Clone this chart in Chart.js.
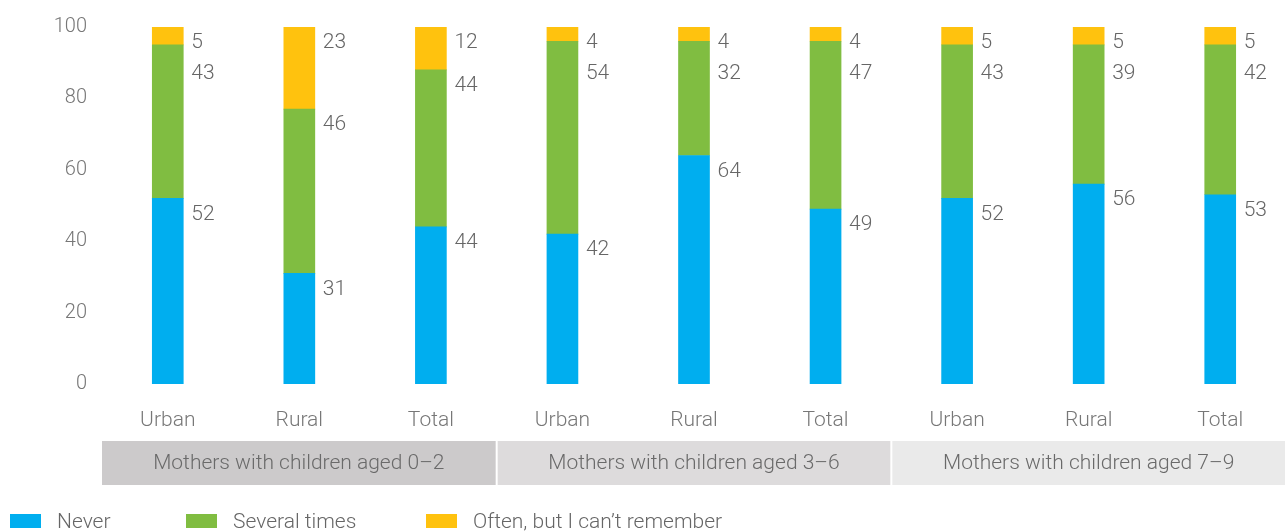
<!DOCTYPE html>
<html>
<head>
<meta charset="utf-8">
<script src="https://cdn.jsdelivr.net/npm/chart.js@4.4.1/dist/chart.umd.min.js"></script>
<style>
  html, body { margin: 0; padding: 0; background: #fff; }
  #wrap { position: relative; width: 1286px; height: 531px; overflow: hidden; }
  #legend { position: absolute; left: 0; top: 505px; width: 1286px; height: 26px; font-family: Roboto, sans-serif; font-weight: 300; font-size: 21px; color: #666; }
  .item { position: absolute; top: 0; display: flex; align-items: center; height: 32px; }
  .box { width: 31px; height: 14px; margin-right: 16px; }
</style>
</head>
<body>
<div id="wrap">
  <canvas id="chart" width="1286" height="531"></canvas>
  <div id="legend"></div>
</div>
<script>
// Data
const categories = ['Urban', 'Rural', 'Total', 'Urban', 'Rural', 'Total', 'Urban', 'Rural', 'Total'];
const never = [52, 31, 44, 42, 64, 49, 52, 56, 53];
const severalTimes = [43, 46, 44, 54, 32, 47, 43, 39, 42];
const often = [5, 23, 12, 4, 4, 4, 5, 5, 5];
const groups = ['Mothers with children aged 0\u20132', 'Mothers with children aged 3\u20136', 'Mothers with children aged 7\u20139'];
const yTicks = [0, 20, 40, 60, 80, 100];

const seriesNames = ['Never', 'Several times', 'Often, but I can\u2019t remember'];
const seriesColors = ['#00aeef', '#80bd41', '#ffc20e'];
const groupColors = ['#cccacb', '#dddbdc', '#eaeaea'];
const FONT = 'Roboto, sans-serif';

// labels to the right of each segment, pushed down when they would collide
const segmentLabels = {
  id: 'segmentLabels',
  afterDatasetsDraw(chart) {
    const ctx = chart.ctx;
    const n = chart.data.labels.length;
    ctx.save();
    ctx.font = '300 21px ' + FONT;
    ctx.fillStyle = '#666';
    ctx.textAlign = 'left';
    ctx.textBaseline = 'middle';
    for (let i = 0; i < n; i++) {
      let prev = -Infinity;
      for (let d = chart.data.datasets.length - 1; d >= 0; d--) {
        const bar = chart.getDatasetMeta(d).data[i];
        const v = chart.data.datasets[d].data[i];
        const right = bar.x + bar.width / 2;
        let y = Math.max(bar.y + 16, prev + 31);
        ctx.fillText(String(v), right + 8, y);
        prev = y;
      }
    }
    ctx.restore();
  }
};

// grey bands under the category labels
const groupBands = {
  id: 'groupBands',
  afterDraw(chart) {
    const ctx = chart.ctx;
    const x = chart.scales.x;
    const step = x.getPixelForValue(1) - x.getPixelForValue(0);
    const top = chart.chartArea.bottom + 57;
    const h = 44;
    ctx.save();
    groups.forEach((g, k) => {
      const left = x.getPixelForValue(k * 3) - step / 2 + (k > 0 ? 1 : 0);
      const right = x.getPixelForValue(k * 3 + 2) + step / 2 - 1;
      ctx.fillStyle = groupColors[k];
      ctx.fillRect(left, top, right - left, h);
      ctx.fillStyle = '#6a6a6a';
      ctx.font = '300 21px ' + FONT;
      ctx.textAlign = 'center';
      ctx.textBaseline = 'middle';
      ctx.fillText(g, (left + right) / 2, top + h / 2 + 1);
    });
    ctx.restore();
  }
};

const datasets = [never, severalTimes, often].map((data, k) => ({
  label: seriesNames[k],
  data: data,
  backgroundColor: seriesColors[k],
  borderWidth: 0,
  barThickness: 31,
  stack: 's'
}));

new Chart(document.getElementById('chart'), {
  type: 'bar',
  data: { labels: categories, datasets: datasets },
  options: {
    responsive: false,
    animation: false,
    layout: { padding: { top: 27, left: 0, right: 0, bottom: 0 } },
    plugins: { legend: { display: false }, tooltip: { enabled: false } },
    scales: {
      x: {
        stacked: true,
        grid: { display: false },
        border: { display: false },
        ticks: { color: '#777', font: { family: FONT, size: 21, weight: '300' }, padding: 16 },
        afterFit: s => { s.height = 147; }
      },
      y: {
        stacked: true,
        min: 0,
        max: 100,
        grid: { display: false },
        border: { display: false },
        afterBuildTicks: s => { s.ticks = yTicks.map(v => ({ value: v })); },
        ticks: { color: '#777', font: { family: FONT, size: 20, weight: '300' }, padding: 7 },
        afterFit: s => { s.width = 102; }
      }
    }
  },
  plugins: [segmentLabels, groupBands]
});

// legend
const legendLeft = [10, 186, 426];
const legend = document.getElementById('legend');
seriesNames.forEach((name, k) => {
  const item = document.createElement('div');
  item.className = 'item';
  item.style.left = legendLeft[k] + 'px';
  item.innerHTML = '<span class="box" style="background:' + seriesColors[k] + '"></span><span></span>';
  item.lastChild.textContent = name;
  legend.appendChild(item);
});
</script>
</body>
</html>
